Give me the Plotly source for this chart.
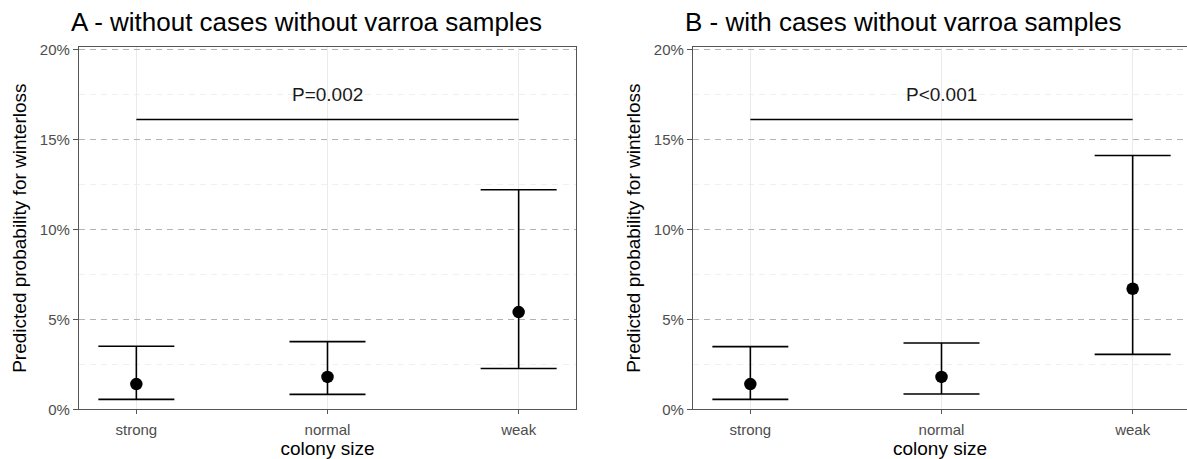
import plotly.graph_objects as go

categories = ["strong", "normal", "weak"]

# Panel A - without cases without varroa samples (percent)
a_est = [1.4, 1.8, 5.4]
a_low = [0.55, 0.83, 2.27]
a_high = [3.5, 3.76, 12.2]

# Panel B - with cases without varroa samples (percent)
b_est = [1.4, 1.8, 6.7]
b_low = [0.55, 0.85, 3.05]
b_high = [3.48, 3.68, 14.1]

titles = ["A - without cases without varroa samples", "B - with cases without varroa samples"]
p_texts = ["P=0.002", "P<0.001"]
p_line_y = 16.1
p_text_y = 17.5

y_ticks = [0, 5, 10, 15, 20]
y_tick_labels = ["0%", "5%", "10%", "15%", "20%"]

W, H = 1187, 459
fig = go.Figure()

panels = [(a_est, a_low, a_high), (b_est, b_low, b_high)]
x_dom = [[79 / W, 576 / W], [693 / W, 1.0]]
x_rng = [[-0.3, 2.3], [-0.3, 2.3 - 3 / 191]]
y_dom = [(H - 409.3) / H, (H - 47) / H]
FONT = "Liberation Sans, Arial, sans-serif"

for i, (est, low, high) in enumerate(panels):
    xa = "x" if i == 0 else "x2"
    ya = "y" if i == 0 else "y2"
    fig.add_trace(go.Scatter(
        x=categories, y=est, mode="markers", xaxis=xa, yaxis=ya,
        marker=dict(color="black", size=12.5),
        error_y=dict(type="data", symmetric=False,
                     array=[h - e for h, e in zip(high, est)],
                     arrayminus=[e - l for e, l in zip(est, low)],
                     color="black", thickness=1.6, width=38),
        showlegend=False, hoverinfo="skip"))
    fig.add_trace(go.Scatter(
        x=[categories[0], categories[-1]], y=[p_line_y, p_line_y], mode="lines",
        xaxis=xa, yaxis=ya, line=dict(color="black", width=1.6),
        showlegend=False, hoverinfo="skip"))
    fig.add_annotation(x=categories[1], y=p_text_y, xref=xa, yref=ya, text=p_texts[i],
                       showarrow=False, font=dict(family=FONT, size=19, color="#1a1a1a"))

axis_common_x = dict(
    type="category", categoryorder="array", categoryarray=categories,
    showline=True, linecolor="#555555", linewidth=1.2, mirror=True,
    ticks="outside", ticklen=4, tickcolor="#555555", ticklabelstandoff=3,
    tickfont=dict(family=FONT, size=15, color="#4d4d4d"),
    showgrid=True, gridcolor="#ebebeb", gridwidth=1, zeroline=False,
    title=dict(text="colony size", font=dict(family=FONT, size=19, color="black"), standoff=2),
    automargin=False,
)
axis_common_y = dict(
    range=[0, 20.13], tickvals=y_ticks, ticktext=y_tick_labels,
    showline=True, linecolor="#555555", linewidth=1.2, mirror=True,
    ticks="outside", ticklen=5, tickcolor="#555555",
    tickfont=dict(family=FONT, size=15, color="#4d4d4d"),
    showgrid=True, gridcolor="#b3b3b3", gridwidth=1, griddash="6px,5px", zeroline=False,
    minor=dict(dtick=2.5, tick0=0, showgrid=True, gridcolor="#f0f0f0", gridwidth=1, ticks=""),
    title=dict(text="Predicted probability for winterloss", font=dict(family=FONT, size=19, color="black"), standoff=8),
    automargin=False,
)

fig.update_layout(
    width=W, height=H, margin=dict(l=0, r=0, t=0, b=0),
    plot_bgcolor="white", paper_bgcolor="white",
    xaxis=dict(domain=x_dom[0], range=x_rng[0], anchor="y", **axis_common_x),
    yaxis=dict(domain=y_dom, anchor="x", **axis_common_y),
    xaxis2=dict(domain=x_dom[1], range=x_rng[1], anchor="y2", **axis_common_x),
    yaxis2=dict(domain=y_dom, anchor="x2", **axis_common_y),
)

title_x = [69 / W, 683 / W]
for i, t in enumerate(titles):
    fig.add_annotation(x=title_x[i], y=1 - 22 / H, xref="paper", yref="paper", text=t,
                       xanchor="left", yanchor="middle", showarrow=False,
                       font=dict(family=FONT, size=26, color="black"))

fig.write_html("out.html", config={"displayModeBar": False},
               post_script="document.body.style.margin='0px';document.body.style.overflow='hidden';")
